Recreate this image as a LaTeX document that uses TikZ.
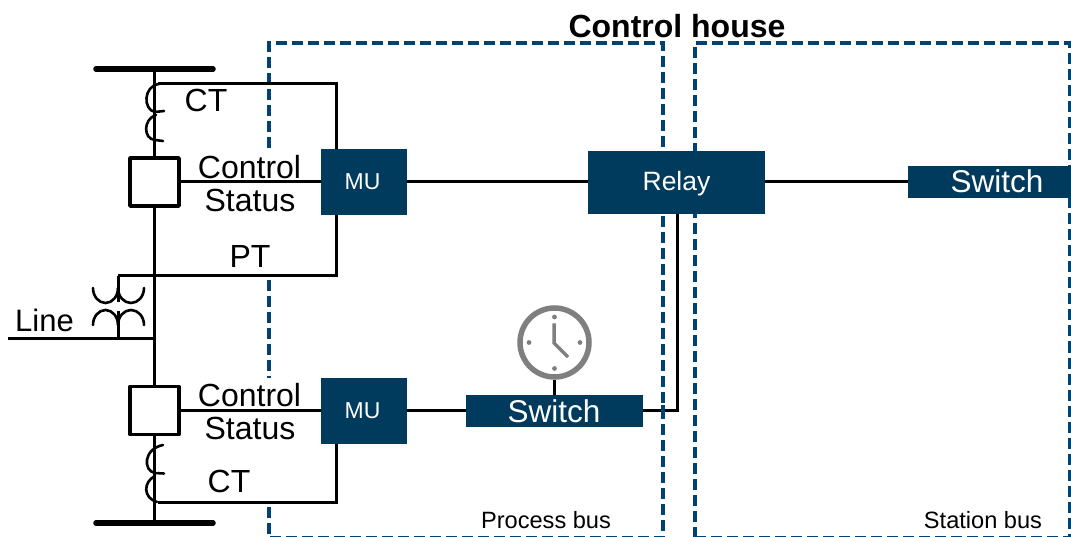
\documentclass[tikz,border=0pt]{standalone}
\usepackage{fontspec}
\setmainfont{Liberation Sans}
\definecolor{navy}{HTML}{003A5D}
\definecolor{dashblue}{HTML}{004272}
\definecolor{clockgrey}{HTML}{7F7F7F}
\newcommand{\fs}[1]{\fontsize{#1}{#1}\selectfont}
\tikzset{
  wire/.style={line width=3pt,black},
  thinwire/.style={line width=2.6pt,black,line cap=round},
  bus/.style={line width=5.5pt,black,line cap=round},
  bound/.style={line width=3.5pt,dashblue,dash pattern=on 11pt off 5pt},
  device/.style={fill=navy,text=white,inner sep=0pt,outer sep=0pt},
  breaker/.style={draw=black,line width=3.8pt,line join=round,fill=white,minimum width=49pt,minimum height=48pt,inner sep=0pt,outer sep=0pt},
  lab/.style={anchor=base,inner sep=0pt,text=black},
  clockring/.style={circle,draw=clockgrey,line width=5.5pt,minimum size=69pt,inner sep=0pt,fill=white},
}
\begin{document}
\begin{tikzpicture}[x=1pt,y=-1pt]
\useasboundingbox (0,0) rectangle (1071,537);
\begin{scope}
\clip (0,0) rectangle (1071,537);
% control-house boundaries
\draw[bound] (269,148) -- (269,43) -- (663,43) -- (663,538) -- (269,538) -- (269,505);
\draw[bound] (269,280) -- (269,378);
\draw[bound] (695,538) -- (695,43) -- (1069.5,43) -- (1069.5,538) -- cycle;
\end{scope}

% coordinates
\coordinate (bustopL) at (96,69);
\coordinate (bustopR) at (213,69);
\coordinate (busbotL) at (96,523);
\coordinate (busbotR) at (213,523);
\coordinate (spineT) at (154.5,69);
\coordinate (spineB) at (154.5,523);
\coordinate (ctT) at (158,83.5);
\coordinate (ctTc) at (336,83.5);
\coordinate (ctB) at (158,502);
\coordinate (ctBc) at (336,502);
\coordinate (ptL) at (118,276);
\coordinate (ptR) at (336,276);
\coordinate (lineL) at (8,339);
\coordinate (lineR) at (154.5,339);
\coordinate (ptLow) at (118,339);
\coordinate (corner) at (677,410.5);

% nodes
\node[breaker] (cb1) at (154.5,182) {};
\node[breaker] (cb2) at (154.5,410.5) {};
\node[device,minimum width=86pt,minimum height=66pt] (mu1) at (364,182) {};
\node[device,minimum width=86pt,minimum height=66pt] (mu2) at (364,411) {};
\node[device,minimum width=177pt,minimum height=63pt] (relay) at (676.5,182.5) {};
\node[device,minimum width=163pt,minimum height=32pt] (sw1) at (989.5,182) {};
\node[device,minimum width=177pt,minimum height=32pt] (sw2) at (554.5,411) {};
\node[clockring] (clk) at (554.5,342.5) {};

% connectors
\draw[wire] (spineT) -- (cb1.north);
\draw[wire] (cb1.south) -- (cb2.north);
\draw[wire] (cb2.south) -- (spineB);
\draw[bus] (bustopL) -- (bustopR);
\draw[bus] (busbotL) -- (busbotR);
\draw[wire] (ctT) -- (ctTc) -- (ctTc |- mu1.north);
\draw[wire] (ctB) -- (ctBc) -- (ctBc |- mu2.south);
\draw[wire] (ptL) -- (ptR) -- (ptR |- mu1.south);
\draw[wire] (lineL) -- (lineR);
\draw[wire] (cb1.east) -- (mu1.west);
\draw[wire] (cb2.east) -- (cb2.east -| mu2.west);
\draw[wire] (mu1.east) -- (mu1.east -| relay.west);
\draw[wire] (relay.east |- sw1.west) -- (sw1.west);
\draw[wire] (mu2.east |- corner) -- (sw2.west |- corner);
\draw[wire] (sw2.east |- corner) -- (corner) -- (corner |- relay.south);
\draw[wire] (clk.south) -- (sw2.north);

% boundary dash printed over the relay feed
\draw[line width=3.5pt,dashblue] (663,405) -- (663,415);

% CT windings
\draw[thinwire] (159,84) .. controls (143,86) and (143,110) .. (155,112) -- (164,111);
\draw[thinwire] (156,115) .. controls (143,119) and (143,139) .. (155,140) -- (163,141);
\draw[thinwire] (163,445) .. controls (143,449) and (143,471) .. (155,473) -- (164,473.5);
\draw[thinwire] (155,476) .. controls (143,482) and (143,498) .. (157,502);

% PT windings
\draw[wire] (ptL) -- (118,302);
\draw[wire] (118,311) -- (ptLow);
\draw[thinwire] (93,288) arc[start angle=180,end angle=0,x radius=12.5,y radius=15];
\draw[thinwire] (118,288) arc[start angle=180,end angle=0,x radius=13,y radius=15];
\draw[thinwire] (93,325) arc[start angle=180,end angle=360,x radius=12.5,y radius=15];
\draw[thinwire] (118,325) arc[start angle=180,end angle=360,x radius=13,y radius=15];

% clock face
\fill[clockgrey] (554.5,317) circle[radius=2.4] (554.5,368.5) circle[radius=2.4] (529,342.5) circle[radius=2.4] (580,342.5) circle[radius=2.4];
\draw[clockgrey,line width=3.5pt] (554,323.5) -- (554,343) -- (568,357);

% labels
\node[lab] at (677,38) {\fs{32}\bfseries Control house};
\node[lab] at (206,112) {\fs{32}CT};
\node[lab] at (249.5,179) {\fs{32}Control};
\node[lab] at (250,212) {\fs{32}Status};
\node[lab] at (250,268) {\fs{32}PT};
\node[lab] at (44.5,332) {\fs{31}Line};
\node[lab] at (249.5,406) {\fs{32}Control};
\node[lab] at (250,439) {\fs{32}Status};
\node[lab] at (229,492) {\fs{32}CT};
\node[lab,text=white] at (362.5,190) {\fs{23}MU};
\node[lab,text=white] at (362.5,418) {\fs{23}MU};
\node[lab,text=white] at (676.5,190.5) {\fs{26.5}Relay};
\node[lab,text=white] at (997,193) {\fs{31.5}Switch};
\node[lab,text=white] at (554,422) {\fs{31.5}Switch};
\node[lab] at (546,528) {\fs{23.6}Process bus};
\node[lab] at (983,528) {\fs{23.6}Station bus};
\end{tikzpicture}
\end{document}
